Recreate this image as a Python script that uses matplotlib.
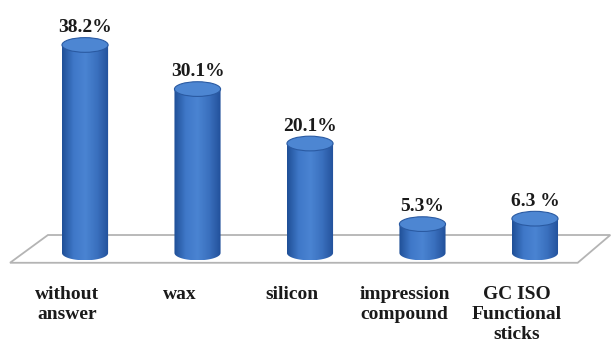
import numpy as np
import matplotlib.pyplot as plt
from matplotlib.patches import Ellipse, Polygon, PathPatch
from matplotlib.path import Path
from matplotlib.colors import LinearSegmentedColormap

################################################
## Data

categories = [
    "without\nanswer",
    "wax",
    "silicon",
    "impression\ncompound",
    "GC ISO\nFunctional\nsticks",
]
values = [38.2, 30.1, 20.1, 5.3, 6.3]
value_labels = ["38.2%", "30.1%", "20.1%", "5.3%", "6.3 %"]

################################################
## Style

fontsize = 14
font = "Liberation Serif"
bar_w = 0.41       # cylinder width (category units)
cap_h = 2.7        # ellipse height (percent units)
body_cmap = LinearSegmentedColormap.from_list(
    "cyl", ["#1f4f96", "#3f78c8", "#4a84d2", "#3a70be", "#22509a"]
)

fig = plt.figure(figsize=(6.11, 3.45), dpi=100)
ax = fig.add_axes([0, 0, 1, 1])
ax.set_xlim(-0.756, 4.676)
ax.set_ylim(-16.9, 46.46)
ax.axis("off")

## floor
floor = Polygon(
    [(-0.33, 3.3), (4.67, 3.3), (4.38, -1.8), (-0.667, -1.8)],
    closed=True, facecolor="white", edgecolor="#b4b4b4", lw=1.3, zorder=1,
)
ax.add_patch(floor)

## cylinders
grad = np.linspace(0, 1, 256).reshape(1, -1)
for i, v in enumerate(values):
    x0, x1 = i - bar_w / 2, i + bar_w / 2
    # body: rectangle + bottom half ellipse
    t = np.linspace(np.pi, 2 * np.pi, 40)
    bottom = np.column_stack([i + bar_w / 2 * np.cos(t), cap_h / 2 * np.sin(t)])
    verts = [(x0, v)] + list(bottom) + [(x1, v), (x0, v)]
    codes = [Path.MOVETO] + [Path.LINETO] * (len(verts) - 2) + [Path.CLOSEPOLY]
    clip = PathPatch(Path(verts, codes), facecolor="none", edgecolor="none")
    ax.add_patch(clip)
    im = ax.imshow(
        grad, cmap=body_cmap, aspect="auto", zorder=2,
        extent=(x0, x1, -cap_h / 2, v), interpolation="bilinear",
    )
    im.set_clip_path(clip)
    # top cap
    ax.add_patch(
        Ellipse((i, v), bar_w, cap_h, facecolor="#4d86d2",
                edgecolor="#2a5aa2", lw=0.8, zorder=3)
    )
    ax.text(i, v + 1.6, value_labels[i], ha="center", va="bottom",
            fontsize=fontsize, fontweight="bold", family=font, color="#1a1a1a")

## category labels
for i, c in enumerate(categories):
    ax.text(i - 0.16, -6.0, c, ha="center", va="top", linespacing=1.25,
            fontsize=fontsize, fontweight="bold", family=font, color="#1a1a1a")

plt.savefig("out.png", dpi=100)
plt.close("all")
